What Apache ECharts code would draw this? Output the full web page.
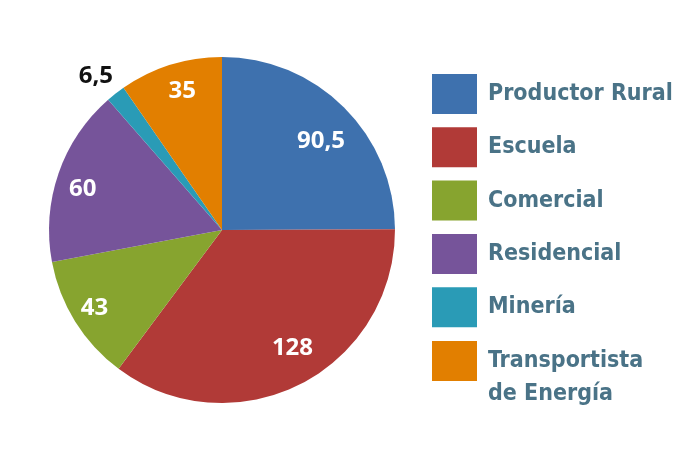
<!DOCTYPE html>
<html><head><meta charset="utf-8">
<script src="https://cdn.jsdelivr.net/npm/echarts@6/dist/echarts.min.js"></script>
<style>html,body{margin:0;padding:0;background:#fff}#c{width:691px;height:456px}</style>
</head><body><div id="c"></div>
<script>
var categories = ['Productor Rural','Escuela','Comercial','Residencial','Minería','Transportista de Energía'];
var values = [90.5, 128, 43, 60, 6.5, 35];
var labels = ['90,5','128','43','60','6,5','35'];
var colors = ['#3e71ae','#b13a37','#87a42f','#76549a','#2a9bb6','#e27f00'];

var labelOffsets = [[-2,13],[6,-10],[-6,2],[-4,6],[11,-6],[3,-2]];
var chart = echarts.init(document.getElementById('c'));
var R = 173;
var sliceData = categories.map(function(n,i){return {name:n,value:values[i],itemStyle:{color:colors[i]}};});
var labelData = categories.map(function(n,i){
  var d = {name:n,value:values[i],itemStyle:{color:'rgba(0,0,0,0)'},label:{offset:labelOffsets[i]}};
  if (i === 4) { d.label.position = 'outside'; d.label.color = '#111'; }
  return d;
});
var legendText = {fontFamily:'"DejaVu Sans Condensed",sans-serif',fontWeight:'bold',fontSize:23,color:'#4a7387',lineHeight:33,padding:[0,0,0,6]};
chart.setOption({
  animation:false,
  legend:[{
    orient:'vertical', left:432, top:74, padding:0, itemWidth:45, itemHeight:40, itemGap:13.3,
    icon:'rect', selectedMode:false,
    data: categories.slice(0,5),
    textStyle:legendText
  },{
    orient:'vertical', left:432, top:341-(99-40)/2, padding:0, itemWidth:45, itemHeight:40,
    icon:'rect', selectedMode:false,
    data: [categories[5]],
    formatter:function(n){return ' \nTransportista\nde Energía';},
    textStyle:legendText
  }],
  series:[
    {type:'pie',center:[222,230],radius:[0,R],startAngle:90,clockwise:true,silent:true,
     label:{show:false},labelLine:{show:false},data:sliceData},
    {type:'pie',center:[222,230],radius:[R*0.62,R],startAngle:90,clockwise:true,silent:true,
     label:{show:true,position:'inside',color:'#fff',fontFamily:'"Open Sans",sans-serif',fontWeight:'bold',fontSize:24,
       formatter:function(p){return labels[p.dataIndex];}},
     labelLine:{show:false,length:14,length2:0},
     data:labelData}
  ]
});
</script></body></html>
